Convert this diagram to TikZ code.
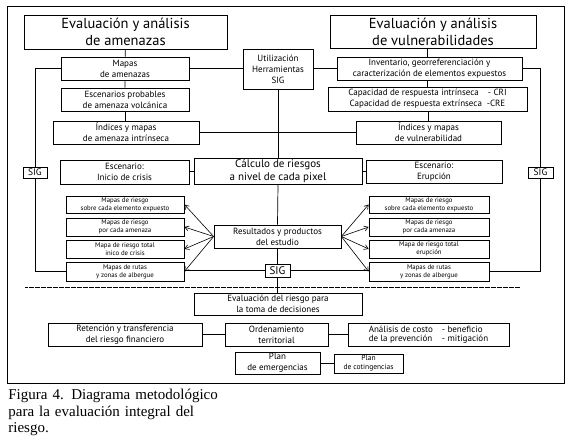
\documentclass[tikz,border=0pt]{standalone}
\usepackage{fontspec}
\setsansfont{PT Sans}
\newfontfamily\capfont{Liberation Serif}
\usetikzlibrary{arrows.meta}

\begin{document}
\begin{tikzpicture}[x=1pt,y=-1pt,line width=0.7pt,
  blk/.style={draw,inner sep=0.5pt,align=center,font=\sffamily\fontsize{9}{11}\selectfont},
  big/.style={blk,font=\sffamily\fontsize{14.5}{17}\selectfont},
  tiny/.style={blk,font=\sffamily\fontsize{6.8}{8.2}\selectfont},
  sz/.style 2 args={minimum width=#1,minimum height=#2},
  fan/.style={-{Straight Barb[length=4pt,width=5pt]},line width=0.6pt}]
\useasboundingbox (0,0) rectangle (574,443);
\draw (7,6) rectangle (564,383);
% hazard column
\node[big,sz={203}{34}] (ameL) at (125.5,32) {Evaluación y análisis\\de amenazas};
\node[blk,sz={128}{23}] (mapA) at (125,68.5) {Mapas\\de amenazas};
\node[blk,sz={128}{23}] (escA) at (125,99.5) {Escenarios probables\\de amenaza volcánica};
\node[blk,sz={146}{23}] (indA) at (126,132.5) {Índices y mapas\\de amenaza intrínseca};
% vulnerability column
\node[big,sz={206}{33}] (vulR) at (433,31.5) {Evaluación y análisis\\de vulnerabilidades};
\node[blk,sz={185}{23}] (inv) at (429.5,68.5) {Inventario, georreferenciación y\\caracterización de elementos expuestos};
\node[blk,sz={199}{24}] (cap) at (427.5,99) {Capacidad de respuesta intrínseca\quad- CRI\\Capacidad de respuesta extrínseca\ \ -CRE};
\node[blk,sz={145}{23}] (indV) at (428.5,132.5) {Índices y mapas\\de vulnerabilidad};
% centre
\node[blk,sz={70}{40}] (util) at (278,69) {Utilización\\Herramientas\\SIG};
\node[blk,sz={168}{26},font=\sffamily\fontsize{11}{13}\selectfont] (calc) at (278,171) {Cálculo de riesgos\\a nivel de cada pixel};
\node[blk,sz={129}{24}] (escI) at (124.5,172) {Escenario:\\Inicio de crisis};
\node[blk,sz={136}{23}] (escE) at (434,171.5) {Escenario:\\Erupción};
\node[blk,sz={24}{11},font=\sffamily\fontsize{9.5}{11}\selectfont] (sigL) at (35,172.5) {SIG};
\node[blk,sz={25}{11},font=\sffamily\fontsize{9.5}{11}\selectfont] (sigR) at (540.5,172.5) {SIG};
\node[blk,sz={127}{23}] (res) at (277.5,236.5) {Resultados y productos\\del estudio};
\node[blk,sz={25}{13},font=\sffamily\fontsize{11}{13}\selectfont] (sigC) at (277.5,270.5) {SIG};
% products
\foreach \i/\y/\h/\tl/\tr in {1/204.5/17/{Mapas de riesgo\\sobre cada elemento expuesto}/{Mapas de riesgo\\sobre cada elemento expuesto},
  2/227/18/{Mapas de riesgo\\por cada amenaza}/{Mapas de riesgo\\por cada amenaza},
  3/249/18/{Mapa de riesgo total\\inico de crisis}/{Mapa de riesgo total\\erupción},
  4/271.5/19/{Mapas de rutas\\y zonas de albergue}/{Mapas de rutas\\y zonas de albergue}} {
  \node[tiny,sz={118}{\h}] (L\i) at (125,\y) {\tl};
  \node[tiny,sz={120}{\h}] (R\i) at (429,\y) {\tr};
  \draw[fan] (res.west) -- (L\i.east);
  \draw[fan] (res.east) -- (R\i.west);
}
% decisions
\node[blk,sz={168}{22}] (eval) at (278,304) {Evaluación del riesgo para\\la toma de decisiones};
\node[blk,sz={154}{23}] (ret) at (125,334.5) {Retención y transferencia\\del riesgo financiero};
\node[blk,sz={103}{23}] (ord) at (276.5,334.5) {Ordenamiento\\territorial};
\node[blk,sz={161}{23}] (ana) at (428.5,334.5) {\begin{tabular}{@{}l@{\hspace{9pt}}l@{}}Análisis de costo&- beneficio\\[-2pt]de la prevención&- mitigación\end{tabular}};
\node[blk,sz={85}{22}] (plE) at (277.5,363) {Plan\\de emergencias};
\node[tiny,sz={69}{19},font=\sffamily\fontsize{7.5}{9}\selectfont] (plC) at (368.5,363.5) {Plan\\de cotingencias};
% connectors
\draw (ameL) -- (mapA) -- (escA);
\draw (escA.south) -- (escA.south |- indA.north);
\draw (vulR.south -| cap) -- (inv.north -| cap);
\draw (inv.south -| cap) -- (cap.north);
\draw (cap.south) -- (cap.south -| indV.north) -- (indV.north);
\draw (mapA.east) -- (mapA.east -| util.west);
\draw (util.east |- inv.west) -- (inv.west);
\draw (mapA.west) -| (sigL.north);
\draw (sigL.south) |- (L4.west);
\draw (inv.east) -| (sigR.north);
\draw (sigR.south) |- (R4.east);
\draw (indA.east) -- (indA.east -| indV.west);
\draw (util.south) -- (calc.north);
\draw (escI.east |- calc.west) -- (calc.west);
\draw (calc.east) -- (calc.east -| escE.west);
\draw (calc.south) -- (res.north);
\draw (res.south) -- (sigC.north);
\draw (sigC.south) -- (sigC.south |- eval.north);
\draw (L4.east |- sigC.west) -- (sigC.west);
\draw (sigC.east) -- (sigC.east -| R4.west);
\draw[line width=0.5pt,dash pattern=on 0.6pt off 0.6pt] (25,287) -- (520,287);
\draw (ret.east) -- (ord.west);
\draw (ord.east) -- (ana.west);
\draw (plE.east |- plC.west) -- (plC.west);
% caption
\node[anchor=north west,inner sep=0pt,text width=216pt,font=\capfont\fontsize{15}{16.5}\selectfont] (capt) at (8,389)
  {\makebox[\linewidth][s]{Figura 4. Diagrama metodológico}\\
   \makebox[\linewidth][s]{para la evaluación integral del}\\
   riesgo.};
\end{tikzpicture}
\end{document}
